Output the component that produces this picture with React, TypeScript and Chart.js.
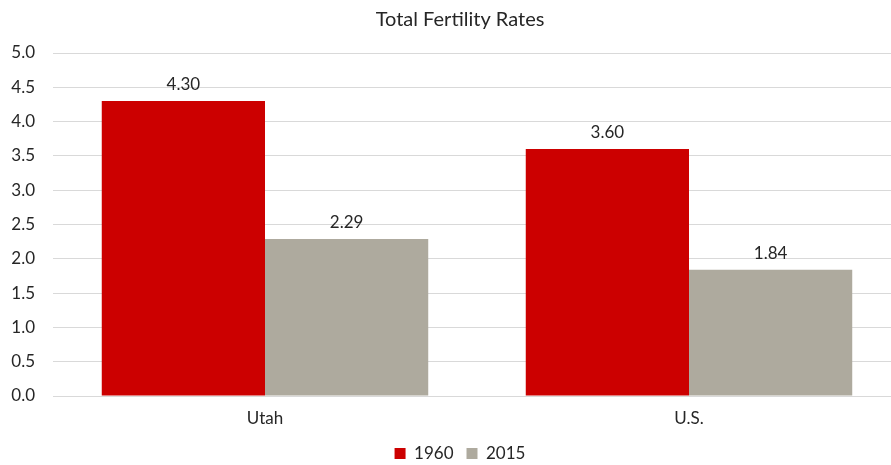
import React, { useEffect, useRef } from "react";
import { Chart, registerables } from "chart.js";

Chart.register(...registerables);

const categories = ["Utah", "U.S."];
const series1960 = [4.3, 3.6];
const series2015 = [2.29, 1.84];
const seriesLabels = ["1960", "2015"];
const chartTitle = "Total Fertility Rates";

const FONT = "Lato, 'Open Sans', sans-serif";
const TEXT = "#262626";

const valueLabels = {
  id: "valueLabels",
  afterDatasetsDraw(chart: any) {
    const ctx = chart.ctx;
    ctx.save();
    ctx.font = `17px ${FONT}`;
    ctx.fillStyle = TEXT;
    ctx.textAlign = "center";
    ctx.textBaseline = "bottom";
    chart.data.datasets.forEach((ds: any, i: number) => {
      const meta = chart.getDatasetMeta(i);
      meta.data.forEach((bar: any, j: number) => {
        ctx.fillText(Number(ds.data[j]).toFixed(2), bar.x, bar.y - 8);
      });
    });
    ctx.restore();
  },
};

// y tick labels drawn outside the scale box (Chart.js clips labels to the box)
const yTickLabels = {
  id: "yTickLabels",
  afterDraw(chart: any) {
    const s = chart.scales.y;
    const ctx = chart.ctx;
    ctx.save();
    ctx.font = `17px ${FONT}`;
    ctx.fillStyle = TEXT;
    ctx.textAlign = "right";
    ctx.textBaseline = "middle";
    s.ticks.forEach((t: any) => {
      ctx.fillText(Number(t.value).toFixed(1), s.right - 18, s.getPixelForValue(t.value));
    });
    ctx.restore();
  },
};

export default function App() {
  const ref = useRef<HTMLCanvasElement>(null);
  useEffect(() => {
    document.body.style.margin = "0";
    const chart = new Chart(ref.current!, {
      type: "bar",
      data: {
        labels: categories,
        datasets: [
          { label: seriesLabels[0], data: series1960, backgroundColor: "#CC0000" },
          { label: seriesLabels[1], data: series2015, backgroundColor: "#AEAA9E" },
        ],
      },
      options: {
        animation: false,
        responsive: false,
        maintainAspectRatio: false,
        layout: { padding: { left: 19, right: 19, top: 0, bottom: 0 } },
        datasets: { bar: { barPercentage: 1, categoryPercentage: 0.77 } },
        plugins: {
          title: {
            display: true,
            text: chartTitle,
            color: TEXT,
            font: { family: FONT, size: 20, weight: "normal" },
            padding: { top: 8, bottom: 21 },
          },
          legend: {
            position: "bottom",
            labels: {
              boxWidth: 11,
              boxHeight: 11,
              color: TEXT,
              font: { family: FONT, size: 17 },
              padding: 13,
            },
          },
          tooltip: { enabled: false },
        },
        scales: {
          x: {
            grid: { display: false, drawTicks: false },
            border: { color: "#d9d9d9" },
            ticks: { color: TEXT, font: { family: FONT, size: 17 }, padding: 12 },
            afterFit: (s: any) => {
              s.height = 36;
            },
          },
          y: {
            min: 0,
            max: 5,
            ticks: { stepSize: 0.5, display: false },
            grid: { color: "#d9d9d9", drawTicks: false },
            border: { display: false },
            afterFit: (s: any) => {
              s.width = 34;
            },
          },
        },
      },
      plugins: [valueLabels, yTickLabels],
    });
    return () => chart.destroy();
  }, []);
  return (
    <div style={{ width: 891, height: 465, overflow: "hidden", background: "#fff" }}>
      <canvas ref={ref} width={920} height={472} style={{ display: "block" }} />
    </div>
  );
}
